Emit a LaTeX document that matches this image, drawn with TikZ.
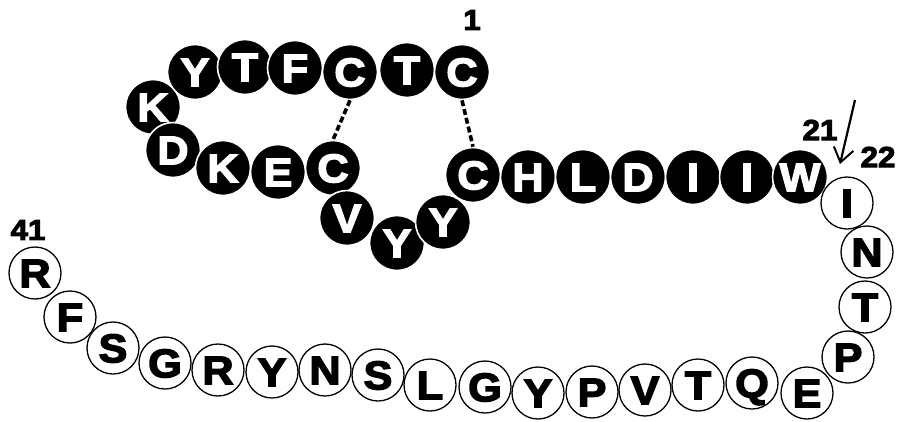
\documentclass[tikz,border=0pt]{standalone}
\usepackage{fontspec}
\setmainfont{Liberation Sans}
\newfontfamily\heavy[FakeBold=3.5,FakeStretch=1.08]{Liberation Sans Bold}
\usetikzlibrary{arrows.meta}
\tikzset{
  blk/.style={circle, fill=black, draw=white, line width=1.6pt, minimum size=55pt, inner sep=0pt,
    text=white, font=\heavy\fontsize{40}{40}\selectfont, text height=28.5pt, text depth=0pt},
  wht/.style={circle, fill=white, draw=black, line width=1.3pt, minimum size=52pt, inner sep=0pt,
    text=black, font=\heavy\fontsize{40}{40}\selectfont, text height=28.5pt, text depth=0pt},
  num/.style={font=\heavy\fontsize{29}{29}\selectfont, inner sep=0pt},
  ssbond/.style={dashed, dash pattern=on 6pt off 3pt, line width=3.6pt},
}
\begin{document}
\begin{tikzpicture}[x=1pt,y=-1pt]
\useasboundingbox (0,0) rectangle (899,421);
% black residues 1-21
\node[blk] (b7) at (153,107) {K};
\node[blk] (b8) at (173,150) {D};
\node[blk] (b6) at (195,72) {Y};
\node[blk] (b5) at (245,67) {T};
\node[blk] (b4) at (295,68) {F};
\node[blk] (b3) at (350,72) {C};
\node[blk] (b2) at (407,70) {T};
\node[blk] (b1) at (462,72) {C};
\node[blk] (b9) at (223,168) {K};
\node[blk] (b10) at (278,172) {E};
\node[blk] (b11) at (333,168) {C};
\node[blk] (b12) at (347,218) {V};
\node[blk] (b13) at (397,243) {Y};
\node[blk] (b14) at (443,222) {Y};
\node[blk] (b15) at (473,175) {C};
\node[blk] (b16) at (528,177) {H};
\node[blk] (b17) at (583,177) {L};
\node[blk] (b18) at (638,177) {D};
\node[blk] (b19) at (693,177) {I};
\node[blk] (b20) at (747,177) {I};
\node[blk] (b21) at (800,177) {W};
% white residues 22-41
\node[wht] (w22) at (847,203) {I};
\node[wht] (w23) at (867,252) {N};
\node[wht] (w24) at (865,307) {T};
\node[wht] (w25) at (848,357) {P};
\node[wht] (w26) at (807,393) {E};
\node[wht] (w27) at (752,383) {Q};
\node[wht] (w28) at (698,385) {T};
\node[wht] (w29) at (645,390) {V};
\node[wht] (w30) at (592,392) {P};
\node[wht] (w31) at (538,393) {Y};
\node[wht] (w32) at (485,387) {G};
\node[wht] (w33) at (430,385) {L};
\node[wht] (w34) at (378,375) {S};
\node[wht] (w35) at (325,370) {N};
\node[wht] (w36) at (272,372) {Y};
\node[wht] (w37) at (218,370) {R};
\node[wht] (w38) at (165,363) {G};
\node[wht] (w39) at (113,348) {S};
\node[wht] (w40) at (70,317) {F};
\node[wht] (w41) at (35,273) {R};
% disulfide bonds
\draw[ssbond] (b3.south) -- (b11.north);
\draw[ssbond] (b1.south) -- (b15.north);
% labels
\node[num] (n1) at (472,20) {1};
\node[num] (n21) at (820,130) {21};
\node[num] (n22) at (878,157) {22};
\node[num] (n41) at (28,230) {41};
% cleavage arrow
\coordinate (arrS) at (855,100);
\coordinate (arrE) at (840,164);
\draw[line width=2.2pt, -{Straight Barb[length=14pt,width=20pt,line width=2pt]}] (arrS) -- (arrE);
\end{tikzpicture}
\end{document}
